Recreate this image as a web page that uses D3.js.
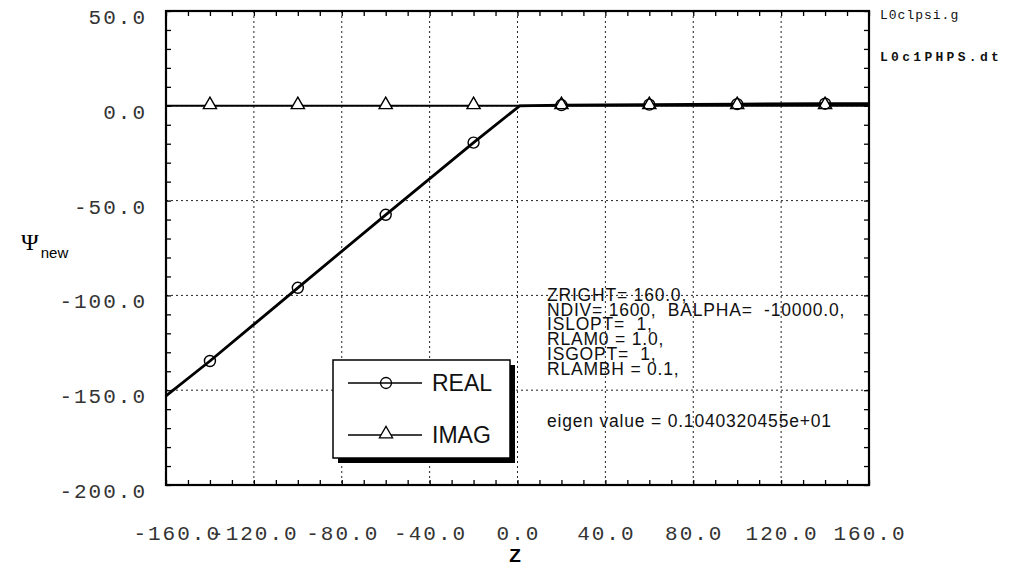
<!DOCTYPE html>
<html>
<head>
<meta charset="utf-8">
<script src="https://cdn.jsdelivr.net/npm/d3@7"></script>
<style>
  html, body { margin: 0; padding: 0; background: #fff; }
  svg { display: block; }
  .tick-label { font-family: "Liberation Mono", monospace; font-size: 21px; fill: #333; letter-spacing: 2px; }
  .note { font-family: "Liberation Sans", Arial, sans-serif; font-size: 17.5px; fill: #111; letter-spacing: 0.8px; }
  .note text { white-space: pre; }
</style>
</head>
<body>
<svg id="chart" width="1021" height="568"></svg>
<script>
// Sample positions along z and the wavefunction components
const zValues    = [-160, -140, -100, -60, -20, 1, 20, 60, 100, 140, 160];
const realValues = [-153, -134.6, -96.0, -57.5, -19.4, 0, 0.4, 0.6, 0.9, 1.1, 1.2];
const imagValues = [0, 0, 0, 0, 0, 0, 0, 0, 0, 0, 0];
// indices of samples that carry a symbol
const markerIndex = [1, 2, 3, 4, 6, 7, 8, 9];

const xTicks = [-160, -120, -80, -40, 0, 40, 80, 120, 160];
const yTicks = [50, 0, -50, -100, -150, -200];
const xTickLabels = ["-160.0", "-120.0", "-80.0", "-40.0", "0.0", "40.0", "80.0", "120.0", "160.0"];
const yTickLabels = ["50.0", "0.0", "-50.0", "-100.0", "-150.0", "-200.0"];
const xMinor = d3.range(-160, 161, 10);
const yMinor = d3.range(-200, 51, 10);

const fileNames = ["L0clpsi.g", "L0c1PHPS.dt"];
const paramLines = [
  "ZRIGHT= 160.0,",
  "NDIV= 1600,  BALPHA=  -10000.0,",
  "ISLOPT=  1,",
  "RLAM0 = 1.0,",
  "ISGOPT=  1,",
  "RLAMBH = 0.1,"
];
const eigenText = "eigen value = 0.1040320455e+01";
const seriesNames = ["REAL", "IMAG"];

const svg = d3.select("#chart");
const m = { left: 166, right: 869, top: 11, bottom: 485 };

const x = d3.scaleLinear().domain([-160, 160]).range([m.left, m.right]);
const y = d3.scaleLinear().domain([-200, 50]).range([m.bottom, m.top]);

// dotted grid at the major ticks
const grid = svg.append("g").attr("stroke", "#222").attr("stroke-width", 1)
  .attr("stroke-dasharray", "2,3");
xTicks.slice(1, -1).forEach(v => grid.append("line")
  .attr("x1", x(v)).attr("x2", x(v)).attr("y1", m.top).attr("y2", m.bottom));
yTicks.slice(1, -1).forEach(v => grid.append("line")
  .attr("x1", m.left).attr("x2", m.right).attr("y1", y(v)).attr("y2", y(v)));

// inward minor ticks on all four sides
const tl = 5;
svg.append("g").attr("transform", `translate(0,${m.bottom})`)
  .call(d3.axisBottom(x).tickValues(xMinor).tickSize(-tl).tickFormat(""))
  .call(g => g.select(".domain").remove());
svg.append("g").attr("transform", `translate(0,${m.top})`)
  .call(d3.axisTop(x).tickValues(xMinor).tickSize(-tl).tickFormat(""))
  .call(g => g.select(".domain").remove());
svg.append("g").attr("transform", `translate(${m.left},0)`)
  .call(d3.axisLeft(y).tickValues(yMinor).tickSize(-tl).tickFormat(""))
  .call(g => g.select(".domain").remove());
svg.append("g").attr("transform", `translate(${m.right},0)`)
  .call(d3.axisRight(y).tickValues(yMinor).tickSize(-tl).tickFormat(""))
  .call(g => g.select(".domain").remove());
svg.selectAll(".tick line").attr("stroke", "#000").attr("stroke-width", 1.3);

// tick labels; the first one is nudged right, ending just before the next label
svg.append("g").selectAll("text").data(xTicks).join("text")
  .attr("class", "tick-label")
  .attr("x", (d, i) => i === 0 ? x(d) + 55 : x(d) + 1)
  .attr("y", 540)
  .attr("text-anchor", (d, i) => i === 0 ? "end" : "middle")
  .text((d, i) => xTickLabels[i]);
svg.append("g").selectAll("text").data(yTicks).join("text")
  .attr("class", "tick-label")
  .attr("x", 147)
  .attr("y", d => y(d) + 13)
  .attr("text-anchor", "end")
  .text((d, i) => yTickLabels[i]);

// axis titles
svg.append("text").attr("x", 515).attr("y", 562).attr("text-anchor", "middle")
  .attr("font-family", "Liberation Sans, Arial, sans-serif").attr("font-size", 19)
  .attr("font-weight", "bold").text("Z");
const yt = svg.append("text").attr("x", 21).attr("y", 250)
  .attr("font-family", "Liberation Serif, serif").attr("font-size", 24);
yt.append("tspan").text("Ψ");
yt.append("tspan").attr("dx", 2).attr("dy", 8)
  .attr("font-family", "Liberation Sans, Arial, sans-serif").attr("font-size", 15).text("new");

// series lines
const pts = zValues.map((z, i) => ({ z, re: realValues[i], im: imagValues[i] }));
svg.append("path").datum(pts)
  .attr("fill", "none").attr("stroke", "#000").attr("stroke-width", 2)
  .attr("d", d3.line().x(d => x(d.z)).y(d => y(d.im)));
svg.append("path").datum(pts)
  .attr("fill", "none").attr("stroke", "#000").attr("stroke-width", 2.8)
  .attr("d", d3.line().x(d => x(d.z)).y(d => y(d.re)));

// symbols
const marked = markerIndex.map(i => pts[i]);
const circle = d3.symbol().type(d3.symbolCircle).size(95);
const tri = d3.symbol().type(d3.symbolTriangle).size(75);
svg.append("g").selectAll("path").data(marked).join("path")
  .attr("transform", d => `translate(${x(d.z)},${y(d.im) - 1})`)
  .attr("d", tri).attr("fill", "#fff").attr("stroke", "#000").attr("stroke-width", 1.4);
svg.append("g").selectAll("path").data(marked).join("path")
  .attr("transform", d => `translate(${x(d.z)},${y(d.re)})`)
  .attr("d", circle).attr("fill", "none").attr("stroke", "#000").attr("stroke-width", 1.4);

// frame
svg.append("rect").attr("x", m.left).attr("y", m.top)
  .attr("width", m.right - m.left).attr("height", m.bottom - m.top)
  .attr("fill", "none").attr("stroke", "#000").attr("stroke-width", 2.2);

// file names at the upper right
svg.append("text").attr("x", 880).attr("y", 19)
  .attr("font-family", "Liberation Mono, monospace").attr("font-size", 13)
  .attr("letter-spacing", 1).attr("fill", "#111").text(fileNames[0]);
svg.append("text").attr("x", 880).attr("y", 61)
  .attr("font-family", "Liberation Mono, monospace").attr("font-size", 13)
  .attr("font-weight", "bold").attr("letter-spacing", 3.3).attr("fill", "#111").text(fileNames[1]);

// run parameters
const notes = svg.append("g").attr("class", "note");
paramLines.forEach((t, i) => notes.append("text")
  .attr("x", 547).attr("y", 301 + i * 14.7)
  .attr("xml:space", "preserve").style("white-space", "pre").text(t));
notes.append("text").attr("x", 547).attr("y", 427).text(eigenText);

// legend with drop shadow
const lg = svg.append("g");
lg.append("rect").attr("x", 338).attr("y", 365).attr("width", 177).attr("height", 98).attr("fill", "#000");
lg.append("rect").attr("x", 333).attr("y", 360).attr("width", 177).attr("height", 98)
  .attr("fill", "#fff").attr("stroke", "#000").attr("stroke-width", 1.5);
const legendRows = [
  { name: seriesNames[0], sym: circle, fill: "none", yy: 383 },
  { name: seriesNames[1], sym: tri, fill: "#fff", yy: 435 }
];
legendRows.forEach(r => {
  lg.append("line").attr("x1", 348).attr("x2", 422).attr("y1", r.yy).attr("y2", r.yy)
    .attr("stroke", "#000").attr("stroke-width", 1.5);
  lg.append("path").attr("transform", `translate(386,${r.yy - (r.fill === "#fff" ? 1 : 0)})`)
    .attr("d", r.sym).attr("fill", r.fill).attr("stroke", "#000").attr("stroke-width", 1.3);
  lg.append("text").attr("x", 432).attr("y", r.yy + 8)
    .attr("font-family", "Liberation Sans, Arial, sans-serif").attr("font-size", 23)
    .attr("fill", "#111").text(r.name);
});
</script>
</body>
</html>
